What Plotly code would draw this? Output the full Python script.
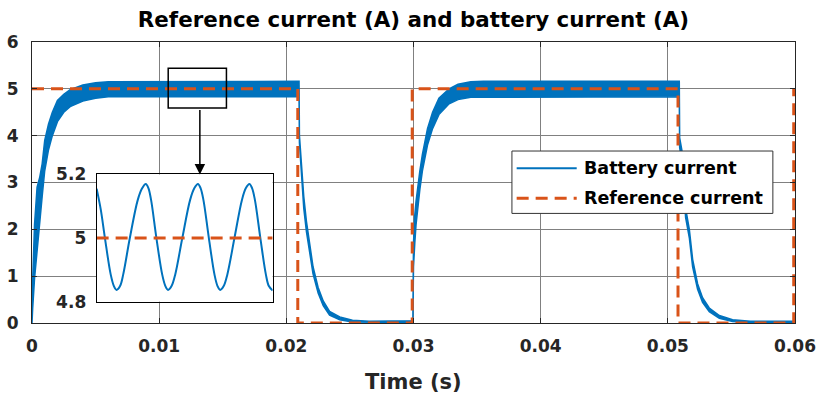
import plotly.graph_objects as go

# ---------------- data ----------------
# battery current: time (s), lower / upper edge of the ripple band (A)
t_bat = [0.0, 0.00005, 0.0002, 0.0004, 0.0006, 0.0008, 0.001, 0.0013, 0.0016,
         0.002, 0.0025, 0.003, 0.004, 0.005, 0.006, 0.021,
         0.02103, 0.0212, 0.02137, 0.02158, 0.02184, 0.0221, 0.0225, 0.0229,
         0.0234, 0.0242, 0.0252, 0.0265, 0.02995,
         0.03, 0.0301, 0.0302, 0.0305, 0.0307, 0.0311, 0.0315, 0.032, 0.0328,
         0.0335, 0.0345, 0.0355, 0.0509,
         0.05093, 0.0511, 0.0514, 0.05169, 0.05195, 0.05234, 0.05273, 0.05326,
         0.05405, 0.05509, 0.0565, 0.06]
bat_lower = [0.0, 0.3, 0.95, 1.5, 2.1, 2.7, 3.25, 3.7, 4.0,
             4.3, 4.5, 4.62, 4.74, 4.8, 4.83, 4.83,
             3.85, 3.15, 2.45, 1.95, 1.47, 1.05, 0.64, 0.37,
             0.17, 0.07, 0.02, 0.01, 0.01,
             1.2, 1.7, 2.1, 2.85, 3.25, 3.8, 4.15, 4.45, 4.68,
             4.77, 4.82, 4.83, 4.83,
             3.75, 3.45, 2.25, 1.82, 1.2, 0.72, 0.44, 0.24,
             0.1, 0.03, 0.01, 0.01]
bat_upper = [0.0, 0.9, 2.1, 2.9, 3.1, 3.4, 3.9, 4.25, 4.5,
             4.75, 4.88, 4.98, 5.08, 5.13, 5.15, 5.16,
             4.0, 3.4, 2.7, 2.17, 1.65, 1.2, 0.76, 0.47,
             0.25, 0.13, 0.06, 0.04, 0.05,
             1.7, 2.3, 2.6, 3.25, 3.6, 4.15, 4.5, 4.8, 5.0,
             5.1, 5.15, 5.16, 5.16,
             3.95, 3.7, 2.45, 2.0, 1.36, 0.84, 0.54, 0.32,
             0.16, 0.07, 0.04, 0.04]

# reference current (A)
t_ref = [0.0, 0.0209, 0.0209, 0.0299, 0.0299, 0.0508, 0.0508, 0.0599, 0.0599]
i_ref = [5, 5, 0, 0, 5, 5, 0, 0, 5]

# zoomed inset (time in microseconds within the zoom window)
inset_t = [0, 1.4, 2.83, 4.81, 5.89, 6.79, 7.99, 9.05, 11.32, 14.03, 15.55, 16.75,
           17.65, 18.56, 20.38, 22.36, 23.44, 24.34, 25.54, 26.78, 29.21, 31.87,
           33.33, 34.53, 35.43, 36.4, 38.26, 40.18, 41.21, 42.11, 43.31, 44.54,
           46.98, 49.53, 50.88, 52.08, 52.98, 53.95, 55.81, 57.7, 58.7, 60.0]
inset_i = [5.155, 5.09, 5.0, 4.885, 4.849, 4.837, 4.849, 4.885, 5.0, 5.12, 5.157, 5.17,
           5.157, 5.12, 5.0, 4.885, 4.849, 4.837, 4.849, 4.885, 5.0, 5.12,
           5.157, 5.17, 5.157, 5.12, 5.0, 4.885, 4.849, 4.837, 4.849, 4.885,
           5.0, 5.12, 5.157, 5.17, 5.157, 5.12, 5.0, 4.885, 4.849, 4.835]
inset_ref_t = [0, 60]
inset_ref_i = [5, 5]

x_ticks = [0, 0.01, 0.02, 0.03, 0.04, 0.05, 0.06]
x_tick_labels = ['0', '0.01', '0.02', '0.03', '0.04', '0.05', '0.06']
y_ticks = [0, 1, 2, 3, 4, 5, 6]
y_tick_labels = ['0', '1', '2', '3', '4', '5', '6']
inset_y_ticks = [4.8, 5.0, 5.2]
inset_y_labels = ['4.8', '5', '5.2']

# ---------------- styles ----------------
BLUE = '#0072BD'
ORANGE = '#D95319'
GRID = '#808080'
AX = '#262626'
FONT = 'DejaVu Sans'
DASH = '12px,7px'

fig = go.Figure()

band_x = t_bat + t_bat[::-1]
band_y = bat_upper + bat_lower[::-1]
fig.add_trace(go.Scatter(x=band_x, y=band_y, mode='lines', fill='toself',
                         fillcolor=BLUE, line=dict(color=BLUE, width=1.5),
                         showlegend=False, hoverinfo='skip'))
fig.add_trace(go.Scatter(x=t_ref, y=i_ref, mode='lines',
                         line=dict(color=ORANGE, width=3, dash=DASH),
                         showlegend=False))

# inset
fig.add_trace(go.Scatter(x=inset_t, y=inset_i, mode='lines', xaxis='x2', yaxis='y2',
                         line=dict(color=BLUE, width=2, shape='spline', smoothing=1.0),
                         showlegend=False))
fig.add_trace(go.Scatter(x=inset_ref_t, y=inset_ref_i, mode='lines', xaxis='x2', yaxis='y2',
                         line=dict(color=ORANGE, width=3, dash=DASH),
                         showlegend=False))

tickfont = dict(family=FONT, size=17, color=AX, weight='bold')

fig.update_layout(
    width=817, height=394,
    margin=dict(l=32, r=22, t=42, b=71),
    paper_bgcolor='white', plot_bgcolor='white',
    title=dict(text='Reference current (A) and battery current (A)',
               font=dict(family=FONT, size=21.4, color='black', weight='bold'),
               x=0.5, xref='paper', xanchor='center',
               y=0.95, yref='container', yanchor='middle'),
    xaxis=dict(range=[0, 0.06], tickvals=x_ticks, ticktext=x_tick_labels,
               showgrid=True, gridcolor=GRID, gridwidth=1, zeroline=False,
               showline=True, mirror='ticks', linecolor=AX, linewidth=1,
               ticks='inside', ticklen=5, tickcolor=AX, automargin=False,
               tickfont=tickfont, ticklabelstandoff=8),
    yaxis=dict(range=[0, 6], tickvals=y_ticks, ticktext=y_tick_labels,
               showgrid=True, gridcolor=GRID, gridwidth=1, zeroline=False,
               showline=True, mirror='ticks', linecolor=AX, linewidth=1,
               ticks='inside', ticklen=5, tickcolor=AX, automargin=False,
               tickfont=tickfont, ticklabelstandoff=9),
    xaxis2=dict(domain=[0.0847, 0.3154], anchor='y2', range=[0, 60],
                showticklabels=False, showgrid=False, zeroline=False, automargin=False,
                showline=True, mirror=True, linecolor='black', linewidth=1, ticks=''),
    yaxis2=dict(domain=[0.0759, 0.5287], anchor='x2', range=[4.8, 5.2],
                tickvals=inset_y_ticks, ticktext=inset_y_labels,
                showgrid=False, zeroline=False, automargin=False,
                showline=True, mirror=True, linecolor='black', linewidth=1, ticks='',
                tickfont=tickfont, ticklabelstandoff=6),
    shapes=[
        # zoom window in the main plot
        dict(type='rect', xref='x', yref='y', x0=0.01071, x1=0.01529, y0=4.59, y1=5.44,
             line=dict(color='black', width=1.5), layer='above'),
        # legend box
        dict(type='rect', xref='paper', yref='paper', x0=0.629, x1=0.971, y0=0.390, y1=0.612,
             fillcolor='white', line=dict(color='#333333', width=1), layer='above'),
        dict(type='line', xref='paper', yref='paper', x0=0.6352, x1=0.7139, y0=0.5505, y1=0.5505,
             line=dict(color=BLUE, width=2), layer='above'),
        dict(type='line', xref='paper', yref='paper', x0=0.6352, x1=0.7139, y0=0.4438, y1=0.4438,
             line=dict(color=ORANGE, width=3, dash=DASH), layer='above'),
    ],
    annotations=[
        dict(text='Battery current', xref='paper', yref='paper', x=0.7205, y=0.5505,
             xanchor='left', yanchor='middle', showarrow=False,
             font=dict(family=FONT, size=17.5, color='black', weight='bold')),
        dict(text='Reference current', xref='paper', yref='paper', x=0.7205, y=0.4438,
             xanchor='left', yanchor='middle', showarrow=False,
             font=dict(family=FONT, size=17.5, color='black', weight='bold')),
        dict(text='Time (s)', xref='paper', yref='paper', x=0.5, y=-0.21,
             xanchor='center', yanchor='middle', showarrow=False,
             font=dict(family=FONT, size=21, color=AX, weight='bold')),
        dict(text='', xref='x', yref='paper', x=0.0132, y=0.5287,
             ax=0, ay=-66, axref='pixel', ayref='pixel', showarrow=True,
             arrowhead=2, arrowsize=1.4, arrowwidth=1.5, arrowcolor='black'),
    ],
)

fig.write_html('out.html')
